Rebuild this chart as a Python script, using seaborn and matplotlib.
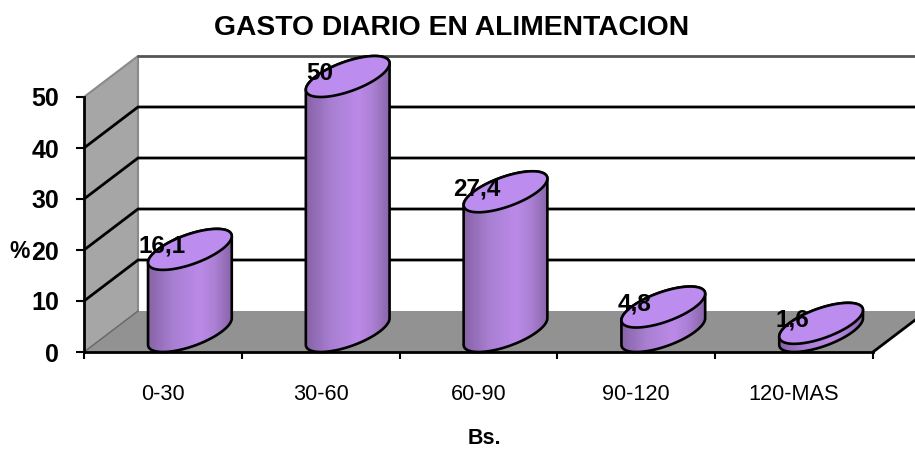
import numpy as np
import pandas as pd
import matplotlib
matplotlib.use("Agg")
import matplotlib.pyplot as plt
from matplotlib.colors import LinearSegmentedColormap
from matplotlib.patches import Polygon
import seaborn as sns

# values
categories = ["0-30", "30-60", "60-90", "90-120", "120-MAS"]
values = [16.1, 50, 27.4, 4.8, 1.6]
value_labels = ["16,1", "50", "27,4", "4,8", "1,6"]
y_ticks = [0, 10, 20, 30, 40, 50]

sns.set_style("white")
plt.rcParams["font.family"] = ["Liberation Sans", "DejaVu Sans"]

W, H = 915, 449
fig = plt.figure(figsize=(W / 100, H / 100), dpi=100)
# front plane of the fake 3D box, in pixels 84-873 / 352-97
ax = fig.add_axes([84 / W, 1 - 352 / H, (873 - 84) / W, (352 - 97) / H])
ax.patch.set_visible(False)

df = pd.DataFrame({"rango": categories, "pct": values})

# depth of the box in data units
dx = 54 / 157.8
dy = 41 / 5.1
x0, x1 = -0.5, 4.5

# cylinder shape, base is a circle seen in the sheared depth plane
ux = 32 / 157.8
vx = 27 / 157.8
vy = 20.5 / 5.1
half = np.hypot(ux, vx)
t0 = np.arctan2(vx, ux)

sns.barplot(data=df, x="rango", y="pct", width=2 * half, color="#a87cd4",
            saturation=1, ax=ax, zorder=2)
ax.set_xlim(x0, x1)
ax.set_ylim(0, 50)

# walls and floor
ax.add_patch(Polygon([(x0, 0), (x0 + dx, dy), (x0 + dx, 50 + dy), (x0, 50)],
                     fc="#a6a6a6", ec="none", clip_on=False, zorder=0))
ax.add_patch(Polygon([(x0, 0), (x1, 0), (x1 + dx, dy), (x0 + dx, dy)],
                     fc="#929292", ec="none", clip_on=False, zorder=0))
ax.plot([x0, x0 + dx, x0 + dx], [50, 50 + dy, dy], color="#8a8a8a", lw=1.5,
        clip_on=False, zorder=1)
ax.plot([x0 + dx, x1 + dx], [50 + dy, 50 + dy], color="#555555", lw=2,
        clip_on=False, zorder=1)
ax.plot([x0, x0 + dx], [0, dy], color="#666666", lw=1, clip_on=False, zorder=1)

# grid on side and back wall
for g in y_ticks[1:-1]:
    ax.plot([x0, x0 + dx, x1 + dx], [g, g + dy, g + dy], color="black", lw=2,
            clip_on=False, zorder=1, solid_joinstyle="miter")
ax.plot([x1, x1 + dx], [0, dy], color="black", lw=2, clip_on=False, zorder=1)

shade = LinearSegmentedColormap.from_list(
    "cyl", [(0, "#8763a6"), (0.3, "#a87fd2"), (0.62, "#bb8ae8"), (0.8, "#ab80d4"), (1, "#8864a8")])
ramp = np.linspace(0, 1, 256).reshape(1, -1)

for i, (bar, v) in enumerate(zip(ax.patches, values)):
    cx = i + dx / 2
    cy = dy / 2
    bar.set_x(bar.get_x() + dx / 2)
    bar.set_y(cy)

    # silhouette: front half of the base, then up and over the top ellipse
    t = np.linspace(t0 + np.pi, t0 + 2 * np.pi, 80)
    bx = cx + ux * np.cos(t) + vx * np.sin(t)
    by = cy + vy * np.sin(t)
    tt = np.linspace(t0, t0 + np.pi, 80)
    tx = cx + ux * np.cos(tt) + vx * np.sin(tt)
    ty = cy + v + vy * np.sin(tt)
    outline = np.column_stack([np.r_[bx, tx], np.r_[by, ty]])

    im = ax.imshow(ramp, cmap=shade, aspect="auto", zorder=2.1,
                   extent=[cx - half, cx + half, 0, v + 2 * dy])
    clip = Polygon(outline, transform=ax.transData, fc="none", ec="none", clip_on=False)
    ax.add_patch(clip)
    im.set_clip_box(fig.bbox)
    im.set_clip_path(clip)
    bar.set_visible(False)

    ax.add_patch(Polygon(outline, closed=True, fc="none", ec="black", lw=1.9,
                         clip_on=False, zorder=3))
    a = np.linspace(0, 2 * np.pi, 160)
    top = np.column_stack([cx + ux * np.cos(a) + vx * np.sin(a), cy + v + vy * np.sin(a)])
    ax.add_patch(Polygon(top, closed=True, fc="#bc8cee", ec="black", lw=1.9,
                         clip_on=False, zorder=3.1))

    ax.text(i - 0.008, v + 4.6, value_labels[i], ha="center", va="center", fontsize=17.5,
            fontweight="bold", color="black", clip_on=False, zorder=5)

ax.set_xlim(x0, x1)
ax.set_ylim(0, 50)

# axes
for s in ["top", "right"]:
    ax.spines[s].set_visible(False)
for s in ["left", "bottom"]:
    ax.spines[s].set_color("black")
    ax.spines[s].set_linewidth(2)
    ax.spines[s].set_zorder(4)

ax.set_yticks(y_ticks)
ax.set_yticklabels([str(y) for y in y_ticks], fontsize=18, fontweight="bold", color="black")
ax.tick_params(axis="y", left=True, length=6, width=1.5, color="black", pad=12)
ax.set_xticks(np.arange(x0, x1 + 0.5))
ax.set_xticklabels([])
ax.set_xticks(np.arange(len(categories)), labels=categories, minor=True)
ax.tick_params(axis="x", which="major", bottom=True, length=5, width=1.5, color="black")
ax.tick_params(axis="x", which="minor", bottom=False, length=0, pad=23, labelsize=15.7, labelcolor="black")

ax.set_xlabel("")
ax.set_ylabel("")
fig.text(452 / W, 1 - 28 / H, "GASTO DIARIO EN ALIMENTACION", ha="center", va="center",
         fontsize=20.3, fontweight="bold", color="black")
fig.text(484 / W, 1 - 439 / H, "Bs.", ha="center", va="center", fontsize=15.5,
         fontweight="bold", color="black")
fig.text(20 / W, 1 - 252 / H, "%", ha="center", va="center", fontsize=16.5,
         fontweight="bold", color="black")

fig.savefig("out.png", dpi=100)
